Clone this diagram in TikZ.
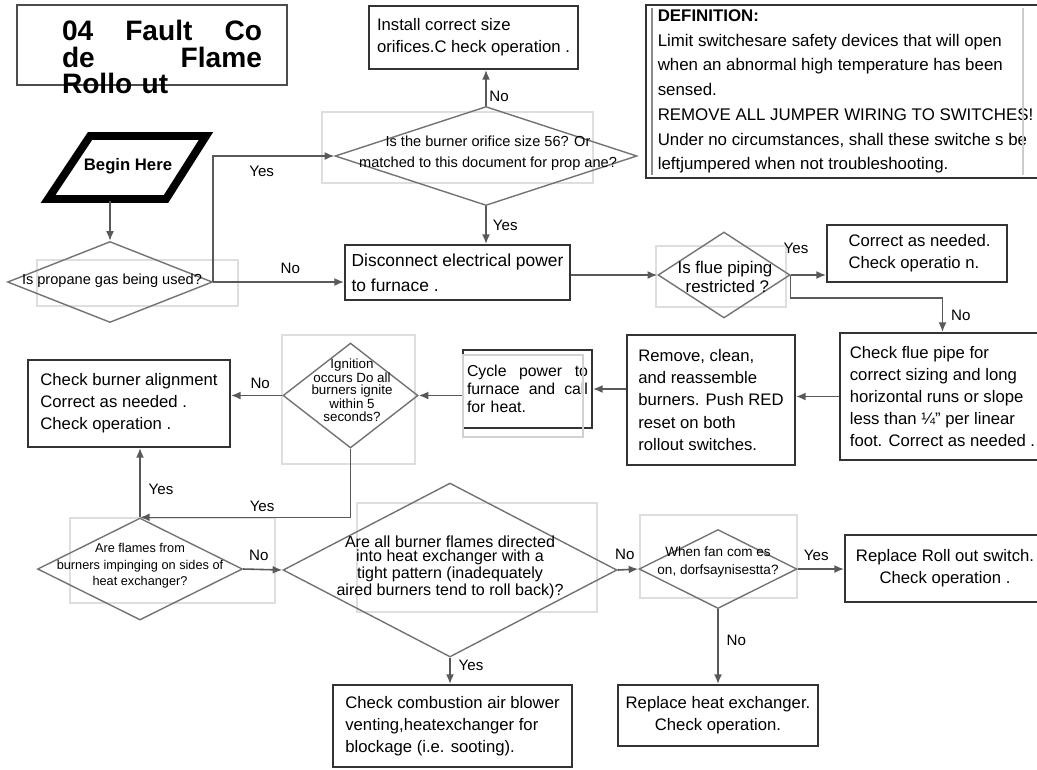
\documentclass[tikz,border=0pt]{standalone}
\usepackage{fontspec}
\setmainfont{Liberation Sans}
\usetikzlibrary{shapes.geometric, arrows.meta, positioning}
\tikzset{
  stepbox/.style={rectangle, draw=black!80, line width=1.1pt, fill=white, align=left, inner xsep=0.1cm, inner ysep=2pt, font={\fontsize{9.5}{12.6}\selectfont}},
  query/.style={diamond, draw=black!55, line width=0.8pt, inner sep=0pt},
  qtext/.style={align=center, inner sep=0pt},
  backdrop/.style={draw=black!13, line width=0.6pt},
  arrow/.style={draw=black!65, line width=0.9pt, -{Latex[length=5.5pt,width=4.5pt]}},
  lbl/.style={font={\fontsize{8.6}{10}\selectfont}, inner sep=1.5pt}
}

\begin{document}
\begin{tikzpicture}[x=0.02cm, y=-0.02cm]
        \useasboundingbox (0,0) rectangle (1037,769);
        \draw[backdrop] (37,260) rectangle (238,306);
        \draw[backdrop] (322,112) rectangle (593,183);
        \draw[backdrop] (656,246) rectangle (786,307);
        \draw[backdrop] (282,335) rectangle (415,464);
        \draw[backdrop] (70,518) rectangle (275,603);
        \draw[backdrop] (357,503) rectangle (597,612);
        \draw[backdrop] (640,515) rectangle (797,598);

        \node (titlebox) [rectangle, draw=black!70, line width=1pt, minimum width=5.4cm, minimum height=1.6cm] at (152,45) {};
        \node (title) [text width=4cm, align=left, inner sep=0pt, font={\bfseries\fontsize{16}{15.3}\selectfont}] at (162,57) {04\hfill Fault\hfill Co\\de\hfill Flame\\Rollo ut};
        \node (begin) [minimum width=3.3cm, minimum height=1.4cm, inner sep=0pt, font={\bfseries\fontsize{9.5}{11}\selectfont}] at (128,166) {Begin Here};
        \draw[black, line width=4.5pt] (90,136) -- (206,136) -- (166,199) -- (48,199) -- cycle;

        \node (install) [stepbox, minimum width=4.18cm, minimum height=1.26cm] at (473.5,37.5) {Install correct size\\orifices.C heck operation .};
        \node (disc) [stepbox, minimum width=4.5cm, minimum height=1.1cm, font={\fontsize{9.9}{14}\selectfont}] at (457.5,272.5) {Disconnect electrical power\\to furnace .};
        \node (correct) [stepbox, minimum width=3.6cm, minimum height=1.14cm] at (917,253.5) {\hspace*{0.1cm}Correct as needed.\\\hspace*{0.1cm}Check operatio n.};
        \node (defbox) [stepbox, line width=1pt, minimum width=7.98cm, minimum height=3.46cm, font={\fontsize{9.6}{14.1}\selectfont}] at (845.5,91.5) {\textbf{DEFINITION:}\\Limit switchesare safety devices that will open\\when an abnormal high temperature has been\\sensed.\\REMOVE ALL JUMPER WIRING TO SWITCHES!\\Under no circumstances, shall these switche s be\\leftjumpered when not troubleshooting.};
        \draw[black!45, line width=0.6pt] (652,8) -- (652,175);
        \draw[black!20, line width=0.6pt] (1023,8) -- (1023,175);
        \node (chkflue) [stepbox, minimum width=4.1cm, minimum height=2.54cm] at (942.5,396.5) {Check flue pipe for\\correct sizing and long\\horizontal runs or slope\\less than ¼" per linear\\foot. Correct as needed .};
        \node (remove) [stepbox, minimum width=3.36cm, minimum height=2.6cm] at (711,400) {Remove, clean,\\and reassemble\\burners. Push RED\\reset on both\\rollout switches.};
        \node (cycle) [stepbox, text width=2.42cm, inner xsep=0.08cm, minimum height=1.56cm, font={\fontsize{9}{10.2}\selectfont}] at (527.5,389) {Cycle\hfill power\hfill to\\furnace\hfill and\hfill call\\for heat.};
        \draw[black!18, line width=0.6pt] (463,355) rectangle (583,437);
        \node (burner) [stepbox, minimum width=4.04cm, minimum height=1.74cm] at (129,403.5) {Check burner alignment\\Correct as needed .\\Check operation .};
        \node (comb) [stepbox, minimum width=4.78cm, minimum height=1.64cm] at (452.5,726) {Check combustion air blower\\venting,heatexchanger for\\blockage (i.e. sooting).};
        \node (heat) [stepbox, align=center, minimum width=4cm, minimum height=1.22cm] at (718,715.5) {Replace heat exchanger.\\Check operation.};
        \node (roll) [stepbox, align=center, minimum width=4cm, minimum height=1.34cm] at (945,568.5) {Replace Roll out switch.\\Check operation .};

        \node (q1) [query, minimum width=4.1cm, minimum height=1.62cm] at (110,282) {};
        \node (q1txt) [qtext, font={\fontsize{8.3}{10}\selectfont}] at (112,281) {Is propane gas being used?};
        \node (q2) [query, minimum width=6.04cm, minimum height=1.98cm] at (486,156) {};
        \node (q2txt) [qtext, font={\fontsize{8.3}{12}\selectfont}] at (488,153) {Is the burner orifice size 56? Or\\matched to this document for prop ane?};
        \node (q3) [query, minimum width=2.64cm, minimum height=1.72cm] at (724,275) {};
        \node (q3txt) [qtext, font={\fontsize{9.6}{10.8}\selectfont}] at (725,277) {Is flue piping\\\ restricted ?};
        \node (q4) [query, minimum width=2.7cm, minimum height=2.1cm] at (350.5,395.5) {};
        \node (q4txt) [qtext, font={\fontsize{7.6}{7}\selectfont}] at (352,390) {Ignition\\occurs Do all\\burners ignite\\within 5\\seconds?};
        \node (q5) [query, minimum width=4.1cm, minimum height=2.04cm] at (140,569) {};
        \node (q5txt) [qtext, font={\fontsize{7.25}{9.4}\selectfont}] at (140,566) {Are flames from\\burners impinging on sides of\\heat exchanger?};
        \node (q6) [query, minimum width=6.68cm, minimum height=3.48cm] at (450,570) {};
        \node (q6txt) [qtext, font={\fontsize{9.15}{8.1}\selectfont}] at (450,567) {Are all burner flames directed\\into heat exchanger with a\\tight pattern (inadequately\\aired burners tend to roll back)?};
        \node (q7) [query, minimum width=3.16cm, minimum height=1.58cm] at (718,569) {};
        \node (q7txt) [qtext, font={\fontsize{7.7}{10.2}\selectfont}] at (718,562) {When fan com es\\on, dorfsaynisestta?};

        \draw [arrow] (q1.north |- begin.south) -- (q1.north);
        \draw [arrow] (q1.east) |- node[lbl, pos=0.7, below, yshift=-4pt] {Yes} (q2.west);
        \draw [arrow] (q1.east) -- node[lbl, pos=0.59, above, yshift=3pt] {No} (q1.east -| disc.west);
        \draw [arrow] (q2.north) -- node[lbl, pos=0.25, right] {No} (q2.north |- install.south);
        \draw [arrow] (q2.south) -- node[lbl, pos=0.5, right, xshift=2pt] {Yes} (q2.south |- disc.north);
        \draw [arrow] (disc.east |- q3.west) -- (q3.west);
        \draw [arrow] (q3.east) -- node[lbl, pos=0.15, above=10pt] {Yes} (q3.east -| correct.west);
        \draw [arrow] (q3.east) -- ++(0,23) -| node[lbl, pos=0.75, right, xshift=3pt] {No} (chkflue.north);
        \draw [arrow] (chkflue.west) -- (chkflue.west -| remove.east);
        \draw [arrow] (remove.west |- cycle.east) -- (cycle.east);
        \draw [arrow] (cycle.west |- q4.east) -- (q4.east);
        \draw [arrow] (q4.west) -- node[lbl, pos=0.43, above, yshift=2pt] {No} (q4.west -| burner.east);
        \draw [arrow] (q4.south) |- node[lbl, pos=0.71, above, yshift=1pt] {Yes} (q5.north);
        \draw [arrow] (q5.north) -- node[lbl, pos=0.4, right, xshift=3pt] {Yes} (q5.north |- burner.south);
        \draw [arrow] (q5.east) -- node[lbl, pos=0.4, above, yshift=3pt] {No} (q6.west);
        \draw [arrow] (q6.east) -- node[lbl, pos=0.35, above, yshift=4pt] {No} (q7.west);
        \draw [arrow] (q7.east) -- node[lbl, pos=0.4, above, yshift=3pt] {Yes} (q7.east -| roll.west);
        \draw [arrow] (q7.south) -- node[lbl, pos=0.42, right, xshift=3pt] {No} (heat.north);
        \draw [arrow] (q6.south) -- node[lbl, pos=0.3, right, xshift=3pt] {Yes} (q6.south |- comb.north);
    \end{tikzpicture}
\end{document}
